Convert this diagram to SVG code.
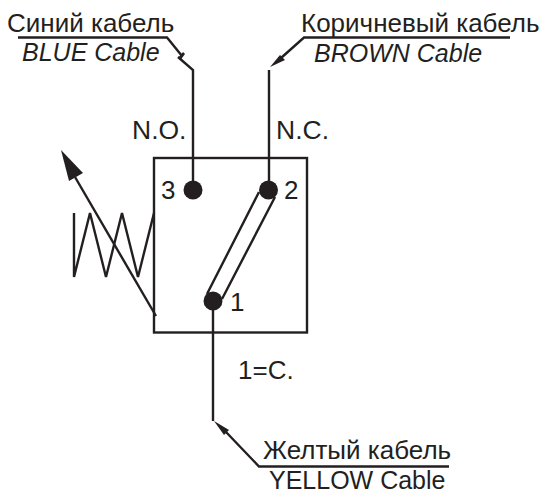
<svg xmlns="http://www.w3.org/2000/svg" width="544" height="491" viewBox="0 0 544 491">
<style>
.l{fill:none;stroke:#231f20;stroke-width:2.4;stroke-linecap:butt;stroke-linejoin:miter}
.d{fill:#231f20}
text{font-family:"Liberation Sans",Arial,sans-serif;fill:#231f20;font-size:26px}
.i{font-style:italic;font-size:25px}
.n{font-size:26.500px}
.y{font-size:25px}
</style>
<rect width="544" height="491" fill="#fff"/>
<g id="connectors">
<path class="l" d="M18 37.500H167L182 56M178 57L193 70V190"/>
<path class="l" d="M510 37.500H304L281 58M269 70V190"/>
<path class="l" d="M449 466.500H259L226 432M213 301V421"/>
<path class="d" d="M178 58L183 52L185 54L180.500 60Z"/>
<path class="d" d="M270 67L280 55L285 60Z"/>
<path class="d" d="M214 421L229 430L224 435Z"/>
</g>
<g id="switch-body"><rect class="l" x="154" y="158" width="153" height="174.500"/></g>
<g id="contact-3"><circle class="d" cx="193" cy="190" r="9.500"/><text x="161" y="199">3</text></g>
<g id="contact-2"><circle class="d" cx="268.500" cy="190" r="9.500"/><text x="284" y="199">2</text></g>
<g id="contact-1"><circle class="d" cx="213" cy="301" r="9.500"/><text x="230" y="311">1</text></g>
<g id="switch-arm"><path class="l" d="M259 192L207 294M275 197L222 299"/></g>
<g id="spring-arrow">
<path class="l" d="M74 213V277L90 213L106 277L122 213L138 277L154 213"/>
<path class="l" d="M75 177L156 316"/>
<path class="d" d="M61 150L83 173L69 181Z"/>
</g>
<g id="labels">
<text x="7" y="32">Синий кабель</text>
<text class="i" x="22" y="61">BLUE Cable</text>
<text x="301" y="32">Коричневый кабель</text>
<text class="i" x="314" y="62">BROWN Cable</text>
<text class="n" x="132" y="139">N.O.</text>
<text class="n" x="276" y="139">N.C.</text>
<text x="238" y="379">1=C.</text>
<text x="263" y="459">Желтый кабель</text>
<text class="y" x="269" y="489">YELLOW Cable</text>
</g>
</svg>
